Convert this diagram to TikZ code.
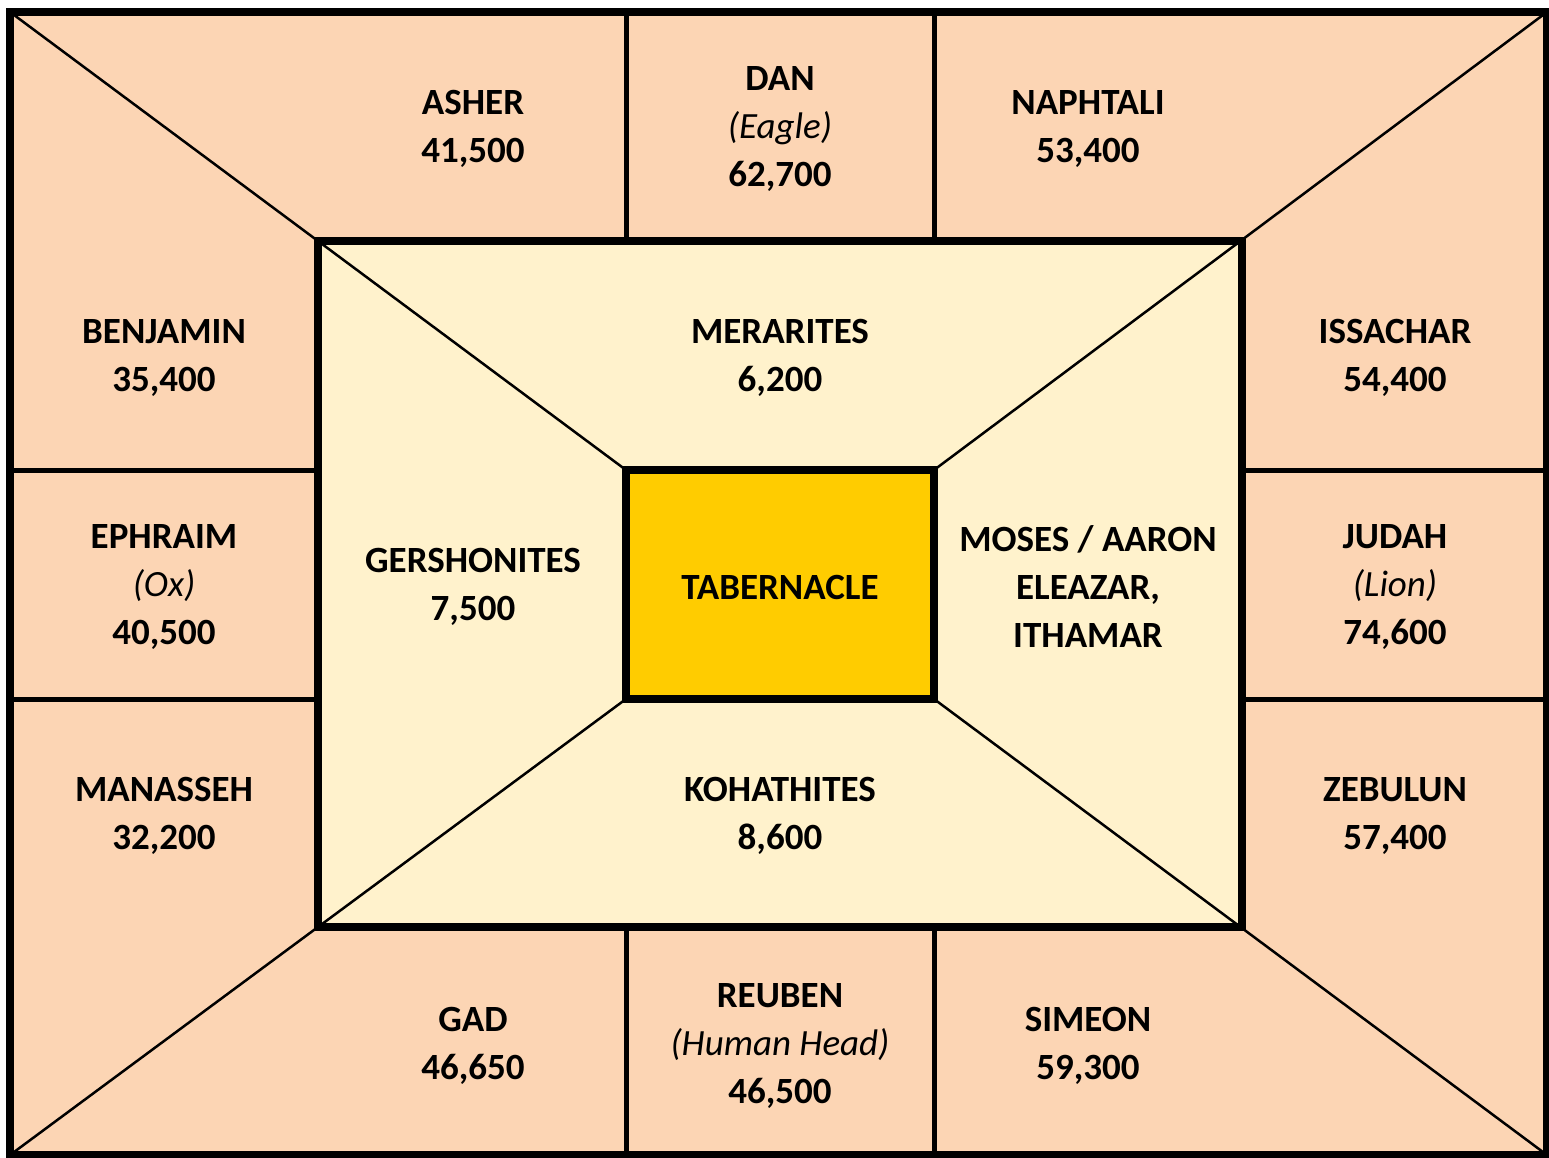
\documentclass[tikz,border=0pt]{standalone}
\usepackage{fontspec}
\setmainfont{Carlito}
\definecolor{peach}{HTML}{FCD5B4}
\definecolor{cream}{HTML}{FFF2CC}
\definecolor{gold}{HTML}{FFCC00}
\begin{document}
\begin{tikzpicture}[x=1pt,y=-1pt,
  lbl/.style={align=center,inner sep=0pt,font=\fontsize{37}{48}\selectfont\bfseries},
  diag/.style={line width=2.5pt},
  divider/.style={line width=5pt},
]
\useasboundingbox (0,0) rectangle (1549,1157);
% key coordinates
\coordinate (O1) at (10,12);   \coordinate (O2) at (1547,12);
\coordinate (O3) at (1547,1155); \coordinate (O4) at (10,1155);
\coordinate (I1) at (318,241); \coordinate (I2) at (1242,241);
\coordinate (I3) at (1242,927); \coordinate (I4) at (318,927);
\coordinate (C1) at (626,470); \coordinate (C2) at (934,470);
\coordinate (C3) at (934,699); \coordinate (C4) at (626,699);
% fills
\fill[peach] (O1) rectangle (O3);
\fill[cream] (I1) rectangle (I3);
% diagonals
\draw[diag] (O1) -- (C1);
\draw[diag] (O2) -- (C2);
\draw[diag] (O3) -- (C3);
\draw[diag] (O4) -- (C4);
% dividers
\coordinate (T1a) at (626,12); \coordinate (T1b) at (626,241);
\coordinate (T2a) at (934,12); \coordinate (T2b) at (934,241);
\coordinate (B1a) at (626,927); \coordinate (B1b) at (626,1155);
\coordinate (B2a) at (934,927); \coordinate (B2b) at (934,1155);
\coordinate (L1a) at (10,470); \coordinate (L1b) at (318,470);
\coordinate (L2a) at (10,699); \coordinate (L2b) at (318,699);
\coordinate (R1a) at (1242,470); \coordinate (R1b) at (1547,470);
\coordinate (R2a) at (1242,699); \coordinate (R2b) at (1547,699);
\draw[divider] (T1a) -- (T1b);
\draw[divider] (T2a) -- (T2b);
\draw[divider] (B1a) -- (B1b);
\draw[divider] (B2a) -- (B2b);
\draw[divider] (L1a) -- (L1b);
\draw[divider] (L2a) -- (L2b);
\draw[divider] (R1a) -- (R1b);
\draw[divider] (R2a) -- (R2b);
% inner border
\draw[line width=7.5pt] (I1) rectangle (I3);
% center
\draw[line width=8pt,fill=gold] (C1) rectangle (C3);
% outer border
\draw[line width=8pt] (O1) rectangle (O3);
% labels
\node[lbl] (asher) at (473,129) {ASHER\\41,500};
\node[lbl] (dan) at (780,129) {DAN\\\normalfont\itshape(Eagle)\\62,700};
\node[lbl] (naphtali) at (1088,129) {NAPHTALI\\53,400};
\node[lbl] (benjamin) at (164,358) {BENJAMIN\\35,400};
\node[lbl] (merarites) at (780,358) {MERARITES\\6,200};
\node[lbl] (issachar) at (1395,358) {ISSACHAR\\54,400};
\node[lbl] (ephraim) at (164,587) {EPHRAIM\\\normalfont\itshape(Ox)\\40,500};
\node[lbl] (gershonites) at (473,587) {GERSHONITES\\7,500};
\node[lbl] (tabernacle) at (780,587) {TABERNACLE};
\node[lbl] (moses) at (1088,587) {MOSES / AARON\\ELEAZAR,\\ITHAMAR};
\node[lbl] (judah) at (1395,587) {JUDAH\\\normalfont\itshape(Lion)\\74,600};
\node[lbl] (manasseh) at (164,816) {MANASSEH\\32,200};
\node[lbl] (kohathites) at (780,816) {KOHATHITES\\8,600};
\node[lbl] (zebulun) at (1395,816) {ZEBULUN\\57,400};
\node[lbl] (gad) at (473,1046) {GAD\\46,650};
\node[lbl] (reuben) at (780,1046) {REUBEN\\\normalfont\itshape(Human Head)\\46,500};
\node[lbl] (simeon) at (1088,1046) {SIMEON\\59,300};
\end{tikzpicture}
\end{document}
